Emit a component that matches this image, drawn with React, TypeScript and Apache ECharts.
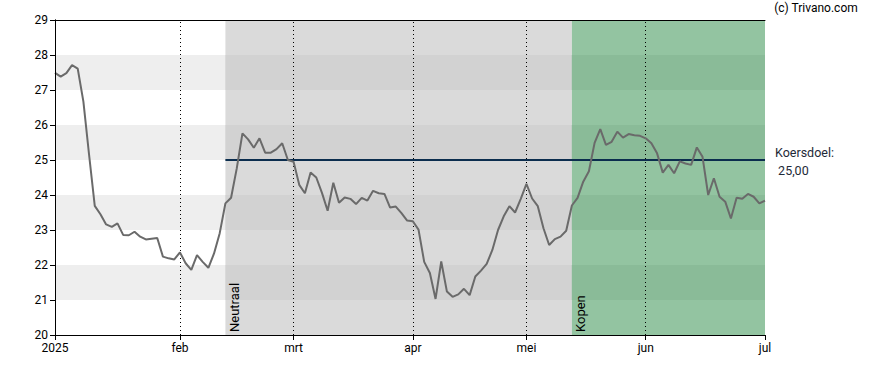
import React, { useEffect, useRef } from "react";
import * as echarts from "echarts";

// Closing prices, one per trading day (index 0 = 2 Jan 2025, last = 30 Jun 2025)
const prices: number[] = [
  27.49, 27.38, 27.48, 27.71, 27.61, 26.67, 25.15, 23.69, 23.45, 23.16,
  23.09, 23.19, 22.86, 22.85, 22.95, 22.81, 22.73, 22.75, 22.77, 22.24,
  22.19, 22.16, 22.36, 22.05, 21.86, 22.28, 22.09, 21.92, 22.33, 22.91,
  23.76, 23.92, 24.76, 25.76, 25.59, 25.35, 25.62, 25.21, 25.21, 25.31,
  25.48, 25.0, 24.95, 24.29, 24.05, 24.64, 24.5, 24.06, 23.55, 24.35,
  23.78, 23.93, 23.89, 23.74, 23.92, 23.84, 24.12, 24.05, 24.03, 23.64,
  23.67, 23.48, 23.27, 23.25, 23.01, 22.09, 21.77, 21.03, 22.1, 21.24,
  21.09, 21.16, 21.32, 21.14, 21.67, 21.84, 22.03, 22.43, 23.0, 23.39,
  23.68, 23.5, 23.89, 24.32, 23.9, 23.68, 23.05, 22.57, 22.74, 22.81,
  22.98, 23.7, 23.92, 24.38, 24.68, 25.49, 25.88, 25.43, 25.52, 25.81,
  25.64, 25.74, 25.71, 25.69, 25.62, 25.48, 25.19, 24.64, 24.86, 24.62,
  24.96, 24.9, 24.86, 25.36, 25.09, 24.0, 24.48, 23.95, 23.81, 23.33,
  23.92, 23.89, 24.03, 23.95, 23.76, 23.84,
];

// Month ticks (trading-day index) and their labels
const monthTickIdx: number[] = [0, 22, 42, 63, 83, 104, 125];
const monthLabels: string[] = ["2025", "feb", "mrt", "apr", "mei", "jun", "jul"];

// Y axis
const yMin = 20;
const yMax = 29;
const stripeBands: [number, number][] = [
  [21, 22],
  [23, 24],
  [25, 26],
  [27, 28],
];

// Advice periods (start index, end index, label)
const adviceStart: number[] = [0, 30, 91];
const adviceEnd: number[] = [30, 91, 125];
const adviceLabels: string[] = ["", "Neutraal", "Kopen"];
const adviceBase: string[] = ["#ffffff", "#dadada", "#93c4a1"];
const adviceStripe: string[] = ["#eeeeee", "#d2d2d2", "#8abb98"];

// Price target
const targetValue = 25;
const targetStartIdx = 30;
const targetLabel = "Koersdoel:";
const targetText = " 25,00";

const FONT = "Roboto, 'Liberation Sans', Arial, sans-serif";

export default function App() {
  const ref = useRef<HTMLDivElement>(null);

  useEffect(() => {
    if (!ref.current) return;
    const chart = echarts.init(ref.current, undefined, { renderer: "svg" });
    const lastIdx = prices.length - 1;

    const areaData: any[] = [];
    adviceStart.forEach((s, k) => {
      const e = adviceEnd[k];
      if (k > 0) {
        areaData.push([
          { xAxis: s, yAxis: yMin, itemStyle: { color: adviceBase[k] } },
          { xAxis: e, yAxis: yMax },
        ]);
      }
      stripeBands.forEach(([a, b]) => {
        areaData.push([
          { xAxis: s, yAxis: a, itemStyle: { color: adviceStripe[k] } },
          { xAxis: e, yAxis: b },
        ]);
      });
    });

    const lineData: any[] = [];
    monthTickIdx.slice(1, -1).forEach((m) => {
      lineData.push([
        { coord: [m, yMin], lineStyle: { type: [1, 3], color: "#000", width: 1 } },
        { coord: [m, yMax] },
      ]);
    });
    lineData.push([
      { coord: [targetStartIdx, targetValue], lineStyle: { type: "solid", color: "#0b2d4e", width: 2 } },
      { coord: [monthTickIdx[monthTickIdx.length - 1], targetValue] },
    ]);

    const axisLineStyle = { show: true, lineStyle: { color: "#000", width: 1 } };

    chart.setOption({
      animation: false,
      textStyle: { fontFamily: FONT },
      grid: { left: 55, right: 123, top: 20, bottom: 35, containLabel: false },
      xAxis: [
        {
          type: "value",
          min: 0,
          max: monthTickIdx[monthTickIdx.length - 1],
          z: 10,
          axisLine: axisLineStyle,
          axisTick: { show: true, length: 5, lineStyle: { color: "#000" }, customValues: monthTickIdx },
          axisLabel: {
            customValues: monthTickIdx,
            color: "#000",
            fontSize: 12,
            fontFamily: FONT,
            margin: 7,
            formatter: (v: number) => {
              const i = monthTickIdx.indexOf(Math.round(v));
              return i >= 0 ? monthLabels[i] : "";
            },
          },
          splitLine: { show: false },
        },
        {
          type: "value",
          position: "top",
          min: 0,
          max: monthTickIdx[monthTickIdx.length - 1],
          z: 10,
          axisLine: axisLineStyle,
          axisTick: { show: false },
          axisLabel: { show: false },
          splitLine: { show: false },
        },
      ],
      yAxis: [
        {
          type: "value",
          min: yMin,
          max: yMax,
          interval: 1,
          z: 10,
          axisLine: axisLineStyle,
          axisTick: { show: true, length: 5, lineStyle: { color: "#000" } },
          axisLabel: { color: "#000", fontSize: 12, fontFamily: FONT, margin: 7 },
          splitLine: { show: false },
        },
        {
          type: "value",
          position: "right",
          min: yMin,
          max: yMax,
          interval: 1,
          z: 10,
          axisLine: axisLineStyle,
          axisTick: { show: false },
          axisLabel: { show: false },
          splitLine: { show: false },
        },
      ],
      series: [
        {
          type: "line",
          data: prices.map((v, i) => [i, v]),
          symbol: "none",
          z: 5,
          lineStyle: { color: "#6a6a6a", width: 2 },
          markArea: { silent: true, data: areaData },
          markLine: { silent: true, symbol: "none", label: { show: false }, data: lineData },
        },
      ],
    });

    const bottomY = chart.convertToPixel({ gridIndex: 0 }, [0, yMin])[1];
    const texts: any[] = [];
    adviceLabels.forEach((lab, k) => {
      if (!lab) return;
      const px = chart.convertToPixel({ gridIndex: 0 }, [adviceStart[k], yMin])[0];
      texts.push({
        type: "text",
        x: px + 9,
        y: bottomY - 3,
        rotation: Math.PI / 2,
        z: 20,
        style: {
          text: lab,
          fill: "#000",
          font: `13px ${FONT}`,
          align: "left",
          verticalAlign: "middle",
        },
      });
    });
    const tp = chart.convertToPixel({ gridIndex: 0 }, [lastIdx, targetValue]);
    texts.push({
      type: "text",
      x: tp[0] + 10,
      y: tp[1] - 8,
      z: 20,
      style: { text: targetLabel, fill: "#1e2a38", font: `12.5px ${FONT}`, align: "left", verticalAlign: "middle" },
    });
    texts.push({
      type: "text",
      x: tp[0] + 10,
      y: tp[1] + 10,
      z: 20,
      style: { text: targetText, fill: "#1e2a38", font: `12.5px ${FONT}`, align: "left", verticalAlign: "middle" },
    });
    texts.push({
      type: "text",
      right: 30,
      top: 2,
      z: 20,
      style: { text: "(c) Trivano.com", fill: "#000", font: `12px ${FONT}` },
    });
    chart.setOption({ graphic: texts });

    return () => chart.dispose();
  }, []);

  return (
    <div
      ref={ref}
      style={{ position: "absolute", left: 0, top: 0, width: 888, height: 370, background: "#fff" }}
    />
  );
}
